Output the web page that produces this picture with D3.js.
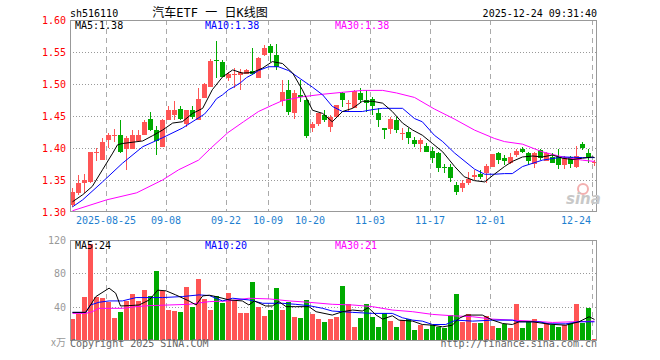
<!DOCTYPE html>
<html><head><meta charset="utf-8">
<script src="https://cdn.jsdelivr.net/npm/d3@7/dist/d3.min.js"></script>
<style>body{margin:0;background:#fff}svg{display:block}text{font-family:"DejaVu Sans Mono",monospace}</style>
</head><body><svg id="c" width="660" height="360"></svg>
<script>
const dates = ["2025-08-15","2025-08-18","2025-08-19","2025-08-20","2025-08-21","2025-08-22","2025-08-25","2025-08-26","2025-08-27","2025-08-28","2025-08-29",
"2025-09-01","2025-09-02","2025-09-03","2025-09-04","2025-09-05","2025-09-08","2025-09-09","2025-09-10","2025-09-11","2025-09-12",
"2025-09-15","2025-09-16","2025-09-17","2025-09-18","2025-09-19","2025-09-22","2025-09-23","2025-09-24","2025-09-25","2025-09-26",
"2025-09-29","2025-09-30","2025-10-09","2025-10-10","2025-10-13","2025-10-14","2025-10-15","2025-10-16","2025-10-17",
"2025-10-20","2025-10-21","2025-10-22","2025-10-23","2025-10-24","2025-10-27","2025-10-28","2025-10-29","2025-10-30","2025-10-31",
"2025-11-03","2025-11-04","2025-11-05","2025-11-06","2025-11-07","2025-11-10","2025-11-11","2025-11-12","2025-11-13","2025-11-14",
"2025-11-17","2025-11-18","2025-11-19","2025-11-20","2025-11-21","2025-11-24","2025-11-25","2025-11-26","2025-11-27","2025-11-28",
"2025-12-01","2025-12-02","2025-12-03","2025-12-04","2025-12-05","2025-12-08","2025-12-09","2025-12-10","2025-12-11","2025-12-12",
"2025-12-15","2025-12-16","2025-12-17","2025-12-18","2025-12-19","2025-12-22","2025-12-23","2025-12-24"];
const openP = [1.311,1.329,1.345,1.347,1.392,1.381,1.413,1.419,1.420,1.399,1.399,1.411,1.420,1.445,1.428,1.402,1.444,1.452,1.461,1.438,
1.459,1.444,1.478,1.496,1.538,1.534,1.510,1.515,1.514,1.516,1.521,1.510,1.545,1.559,1.545,1.474,1.490,1.454,1.483,1.475,
1.432,1.438,1.452,1.433,1.449,1.486,1.470,1.462,1.486,1.475,1.476,1.454,1.431,1.429,1.444,1.422,1.425,1.412,1.406,1.403,
1.395,1.392,1.370,1.371,1.342,1.337,1.346,1.354,1.359,1.361,1.371,1.392,1.384,1.377,1.389,1.398,1.392,1.375,1.397,1.380,
1.386,1.386,1.373,1.386,1.370,1.407,1.392,1.377];
const highP = [1.337,1.358,1.359,1.394,1.400,1.415,1.424,1.430,1.444,1.418,1.428,1.428,1.444,1.457,1.434,1.446,1.466,1.474,1.466,1.460,
1.466,1.493,1.501,1.539,1.567,1.537,1.519,1.525,1.523,1.523,1.557,1.542,1.561,1.562,1.562,1.506,1.506,1.490,1.506,1.476,
1.441,1.455,1.459,1.452,1.467,1.488,1.475,1.491,1.493,1.490,1.479,1.462,1.431,1.449,1.448,1.431,1.431,1.417,1.415,1.408,
1.402,1.394,1.375,1.375,1.347,1.350,1.363,1.365,1.365,1.375,1.391,1.393,1.389,1.392,1.398,1.402,1.394,1.393,1.399,1.394,
1.392,1.399,1.388,1.388,1.403,1.410,1.399,1.381];
const lowP = [1.308,1.326,1.330,1.345,1.380,1.381,1.400,1.410,1.392,1.366,1.399,1.409,1.420,1.426,1.389,1.402,1.443,1.444,1.444,1.433,
1.445,1.444,1.478,1.496,1.509,1.511,1.504,1.493,1.490,1.516,1.514,1.509,1.544,1.534,1.522,1.465,1.452,1.445,1.472,1.415,
1.425,1.434,1.441,1.425,1.449,1.464,1.458,1.462,1.470,1.457,1.452,1.433,1.414,1.422,1.424,1.412,1.406,1.401,1.394,1.393,
1.376,1.363,1.361,1.347,1.326,1.332,1.342,1.350,1.351,1.346,1.371,1.375,1.373,1.375,1.386,1.392,1.373,1.368,1.382,1.379,
1.376,1.367,1.367,1.368,1.368,1.397,1.376,1.372];
const closeP = [1.332,1.345,1.350,1.393,1.393,1.409,1.420,1.421,1.394,1.415,1.420,1.420,1.440,1.428,1.411,1.444,1.460,1.460,1.445,1.460,
1.449,1.477,1.500,1.536,1.5375,1.511,1.515,1.5155,1.518,1.522,1.516,1.540,1.557,1.548,1.527,1.488,1.457,1.486,1.480,1.418,
1.437,1.454,1.444,1.449,1.467,1.475,1.471,1.489,1.475,1.470,1.466,1.443,1.428,1.446,1.428,1.424,1.415,1.407,1.412,1.394,
1.385,1.369,1.369,1.353,1.332,1.346,1.351,1.358,1.354,1.372,1.391,1.382,1.379,1.386,1.395,1.393,1.379,1.392,1.384,1.392,
1.377,1.373,1.385,1.375,1.387,1.400,1.385,1.378];
const volume = [26,32,52.8,115,52.8,51.6,46.8,27.6,34.8,47.6,56,47.6,60.8,53.6,83.6,59.6,36.8,35.6,34.4,63.6,
40.8,73.2,50,36.8,53.6,45.6,57.2,47.6,33.2,33.2,70.4,40.8,30,36.8,63.2,36.8,46.8,28.8,27.2,48.8,
32,26,22.8,26,28.4,64.8,44,16.8,27.2,44,28.8,16.8,32.8,23.6,16.8,24.8,26,12.8,19.6,14,
19.6,16.8,15.6,30.8,56,22.8,32,21.6,21.6,30,17.6,15.2,20.4,15.2,44,15.2,22.8,26,15.2,20.8,
18.8,16.4,18.8,21.6,44,21.6,39.6,2];
// moving averages: [candle index, value]
const ma5P = [[0,1.316],[1.7,1.327],[3.3,1.34],[5,1.366],[6.7,1.392],[7.5,1.405],[8.3,1.407],[11.7,1.411],[13.3,1.419],[15,1.428],[16.7,1.439],[18.3,1.441],[20,1.454],[21.7,1.462],[23.3,1.491],[25,1.511],[26.7,1.522],[28.3,1.517],[30,1.518],[31.7,1.525],[33.3,1.535],[35,1.532],[36.7,1.517],[38.3,1.491],[40,1.459],[41.7,1.454],[43.3,1.441],[45,1.457],[46.7,1.462],[48.3,1.473],[50,1.473],[51.7,1.47],[53.3,1.457],[55,1.439],[56.7,1.428],[58.3,1.42],[60,1.407],[61.7,1.394],[63.7,1.371],[65.3,1.355],[67,1.349],[68.7,1.347],[70.3,1.359],[72,1.371],[73.3,1.379],[75,1.386],[76.7,1.3875],[78.3,1.386],[80,1.389],[81.7,1.384],[83.3,1.382],[85,1.384],[86.7,1.386],[87,1.385]];
const ma10P = [[0,1.308],[1.7,1.319],[5,1.347],[8.3,1.376],[11.7,1.402],[15,1.416],[18.3,1.431],[21,1.447],[22,1.453],[23,1.464],[24,1.477],[25,1.483],[26,1.491],[27,1.496],[28,1.502],[29,1.51],[30,1.515],[31,1.521],[32.7,1.527],[34.3,1.527],[36,1.521],[38,1.508],[40,1.495],[41.7,1.483],[43.3,1.465],[45,1.457],[48.3,1.457],[50,1.46],[51.7,1.462],[55,1.462],[57,1.446],[58.3,1.441],[60.3,1.42],[61.7,1.41],[63.7,1.392],[67,1.367],[68.7,1.359],[70.3,1.359],[72,1.36],[73.3,1.36],[75,1.371],[78.3,1.381],[81.7,1.386],[85,1.385],[87,1.385]];
const ma30P = [[0,1.302],[5.7,1.319],[10.7,1.33],[15,1.35],[17.7,1.366],[21,1.381],[23.2,1.401],[25.9,1.424],[28.5,1.441],[31,1.457],[33.3,1.467],[35,1.474],[38.3,1.48],[41.7,1.484],[45,1.487],[48.3,1.49],[51.7,1.49],[54,1.486],[57,1.479],[60.3,1.461],[63.7,1.445],[67,1.428],[70.3,1.415],[72,1.41],[75,1.406],[78.3,1.394],[81.7,1.386],[85,1.381],[87,1.379]];
const ma5V = [[0,34],[2.2,34],[3,42.8],[3.9,52.8],[6.1,62.8],[7.2,56.8],[8,41.6],[9.4,42],[11.1,42.8],[12.8,48.8],[14.2,60.4],[15.6,59.6],[17.2,54.8],[19.4,47.6],[20.6,42.8],[21.7,53.6],[22.8,54.4],[23.9,52.8],[26.1,48.8],[28.3,47.6],[29.4,42.8],[30.3,47.6],[32.2,41.6],[33.3,41.6],[34.4,46.8],[35.6,40.8],[37.2,40.8],[39.4,40.8],[40.6,34.8],[43.3,30.8],[45,34.8],[46.7,36.8],[48.3,35.6],[49.3,39.6],[50.6,30.8],[51.7,26],[53.3,30],[54.4,24.8],[56.7,23.6],[58.3,19.6],[60,18.8],[61.7,16.8],[63.3,18.8],[64.4,26.8],[65.6,30.8],[68.3,30.8],[70,24.8],[71.7,20.8],[73.3,19.6],[74.4,22.8],[76.7,22.8],[79.4,20],[82.2,18.8],[84.4,22.8],[86.1,28.8],[87,25.6]];
const ma10V = [[0,34],[2.2,34],[3,42.8],[4.4,46],[6.1,47.6],[8.3,47.6],[10.6,51.6],[15,51.6],[18.3,52.8],[21.1,54.8],[22.8,54],[25,47.6],[26.7,50.8],[29.4,48.8],[31.7,44.8],[35,44.8],[37.2,43.6],[39.4,42],[41.7,38.8],[43.3,35.6],[45,34.8],[46.7,34],[50,32.8],[53.3,32.8],[55,27.6],[56.7,24.8],[58.3,23.6],[60,19.6],[62.2,19.6],[63.9,24.8],[66.7,23.6],[70,24.8],[73.3,24.8],[74.4,22.8],[77.8,22.8],[79.4,20.4],[82.2,20.4],[84.4,22.8],[87,22.8]];
const ma30V = [[0,32.8],[2.2,32.8],[3.3,34.8],[4.4,38.8],[8.3,38.8],[10.6,40.8],[12.8,42],[16.1,42.8],[19.4,43.6],[22.8,46.8],[26.1,47.6],[29.4,50.8],[32.8,50],[36.1,47.6],[39.4,46],[43.3,43.6],[46.7,42.8],[50,40.8],[53.3,36.8],[56.7,34.8],[60,31.6],[63.3,30],[66.7,28.8],[70,26],[73.3,24.8],[76.7,23.6],[80,22],[83.3,22.8],[87,23.6]];
const priceTicks = [1.30,1.35,1.40,1.45,1.50,1.55,1.60];
const volTicks = [40,80,120];
const dateTicks = ["2025-08-25","2025-09-08","2025-09-22","2025-10-09","2025-10-20","2025-11-03","2025-11-17","2025-12-01","2025-12-24"];
const dateTickLabels = ["2025-08-25","09-08","09-22","10-09","10-20","11-03","11-17","12-01","12-24"];

const RED = "#ff5555", GREEN = "#00aa00";
const svg = d3.select("#c");
svg.append("rect").attr("width",660).attr("height",360).attr("fill","#fff");

const L = 70, R = 598;
const x = d3.scaleBand().domain(dates).range([L, R]).padding(0);
const xi = d3.scaleLinear().domain([0, dates.length]).range([L, R]);
const y = d3.scaleLinear().domain([1.30, 1.60]).range([212, 20]);
const yv = d3.scaleLinear().domain([0, 120]).range([341, 240]);

// grid: price
const g = svg.append("g");
g.selectAll(".hp").data(priceTicks.filter(v => v > 1.30 && v < 1.60)).enter().append("line")
  .attr("x1", L).attr("x2", 597).attr("y1", d => Math.round(y(d)) + 0.5).attr("y2", d => Math.round(y(d)) + 0.5)
  .attr("stroke", "#999").attr("stroke-dasharray", "1,2");
g.selectAll(".hv").data(volTicks.filter(v => v < 120)).enter().append("line")
  .attr("x1", L).attr("x2", 597).attr("y1", d => Math.floor(yv(d)) + 0.5).attr("y2", d => Math.floor(yv(d)) + 0.5)
  .attr("stroke", "#999").attr("stroke-dasharray", "1,2");
// vertical dashed lines
[[20,212],[240,341]].forEach(([a,b]) => {
  g.selectAll(null).data(dateTicks).enter().append("line")
    .attr("x1", d => x(d) + 0.5).attr("x2", d => x(d) + 0.5).attr("y1", a).attr("y2", b)
    .attr("stroke", "#aaa").attr("stroke-dasharray", "5,4");
});

// candles
const idx = d3.range(dates.length);
const cg = svg.append("g");
idx.forEach(i => {
  const up = closeP[i] >= openP[i];
  const col = up ? RED : GREEN;
  const x0 = x(dates[i]);
  const yh = Math.round(y(highP[i])), yl = Math.round(y(lowP[i]));
  cg.append("rect").attr("x", x0 + 2).attr("width", 1).attr("y", yh).attr("height", Math.max(1, yl - yh)).attr("fill", col);
  const yt = Math.round(y(Math.max(openP[i], closeP[i]))), yb = Math.round(y(Math.min(openP[i], closeP[i])));
  cg.append("rect").attr("x", x0).attr("width", 5).attr("y", yt).attr("height", Math.max(1, yb - yt)).attr("fill", col);
  // volume
  const vt = Math.round(yv(volume[i]));
  cg.append("rect").attr("x", x0).attr("width", 5).attr("y", vt).attr("height", Math.max(1, 341 - vt)).attr("fill", col);
});

// MA lines
const lineP = d3.line().x(d => xi(d[0]) + 2.5).y(d => y(d[1]));
const lineV = d3.line().x(d => xi(d[0]) + 2.5).y(d => yv(d[1]));
[[ma30P,"#ff00ff"],[ma10P,"#0000ff"],[ma5P,"#000"]].forEach(([d,c]) =>
  svg.append("path").attr("d", lineP(d)).attr("fill","none").attr("stroke",c).attr("stroke-width",1));
[[ma30V,"#ff00ff"],[ma10V,"#0000ff"],[ma5V,"#000"]].forEach(([d,c]) =>
  svg.append("path").attr("d", lineV(d)).attr("fill","none").attr("stroke",c).attr("stroke-width",1));

// frames
svg.append("rect").attr("x",70.5).attr("y",20.5).attr("width",526).attr("height",191).attr("fill","none").attr("stroke","#999");
svg.append("rect").attr("x",70.5).attr("y",240.5).attr("width",526).attr("height",100).attr("fill","none").attr("stroke","#999");

// price axis labels
const ay = svg.append("g").attr("transform","translate(70,0)")
  .call(d3.axisLeft(y).tickValues(priceTicks).tickFormat(d3.format(".2f")).tickSize(0).tickPadding(4));
ay.select(".domain").remove();
ay.selectAll("text").attr("font-family","DejaVu Sans Mono").attr("font-size",10).attr("fill","#ff0000");
const av = svg.append("g").attr("transform","translate(70,0)")
  .call(d3.axisLeft(yv).tickValues(volTicks).tickFormat(d3.format("d")).tickSize(0).tickPadding(4));
av.select(".domain").remove();
av.selectAll("text").attr("font-family","DejaVu Sans Mono").attr("font-size",10).attr("fill","#999");
svg.append("text").attr("x",66).attr("y",346).attr("text-anchor","end").attr("font-size",10).attr("fill","#999")
  .style("font-family","'Noto Sans CJK SC'").text("x万");

// date labels
svg.append("g").selectAll("text").data(dateTicks).enter().append("text")
  .attr("x", (d,i) => Math.min(x(d), 591 - dateTickLabels[i].length * 3))
  .attr("y", 224).attr("text-anchor","middle").attr("font-size",10).attr("fill","#1e7fd0")
  .text((d,i) => dateTickLabels[i]);

// header
svg.append("text").attr("x",70).attr("y",17).attr("font-size",10).attr("fill","#000").text("sh516110");
svg.append("text").attr("x",597).attr("y",17).attr("text-anchor","end").attr("font-size",10).attr("fill","#000").text("2025-12-24 09:31:40");
svg.append("text").attr("x",210).attr("y",17).attr("text-anchor","middle").attr("font-size",12).attr("fill","#000")
  .style("font-family","'DejaVu Sans Mono','Noto Sans CJK SC'").text("汽车ETF 一 日K线图");

// MA labels
const maLab = (yy, a, b, c) => {
  svg.append("text").attr("x",75).attr("y",yy).attr("font-size",10).attr("fill","#000").text(a);
  svg.append("text").attr("x",205).attr("y",yy).attr("font-size",10).attr("fill","#0000ff").text(b);
  svg.append("text").attr("x",335).attr("y",yy).attr("font-size",10).attr("fill","#ff00ff").text(c);
};
maLab(29, "MA5:1.38", "MA10:1.38", "MA30:1.38");
maLab(249, "MA5:24", "MA10:20", "MA30:21");

// footer
svg.append("text").attr("x",70).attr("y",347).attr("font-size",10).attr("fill","#666").text("Copyright 2025 SINA.COM");
svg.append("text").attr("x",597).attr("y",347).attr("text-anchor","end").attr("font-size",10).attr("fill","#666").text("http://finance.sina.com.cn");

// watermark
svg.append("circle").attr("cx",583).attr("cy",189).attr("r",5).attr("fill","none").attr("stroke","#f3b0b0").attr("stroke-width",2);
svg.append("text").attr("x",566).attr("y",204).attr("font-size",15).attr("font-style","italic").attr("font-weight","bold")
  .attr("fill","#c8c8c8").style("font-family","'DejaVu Sans'").text("sina");
</script></body></html>
